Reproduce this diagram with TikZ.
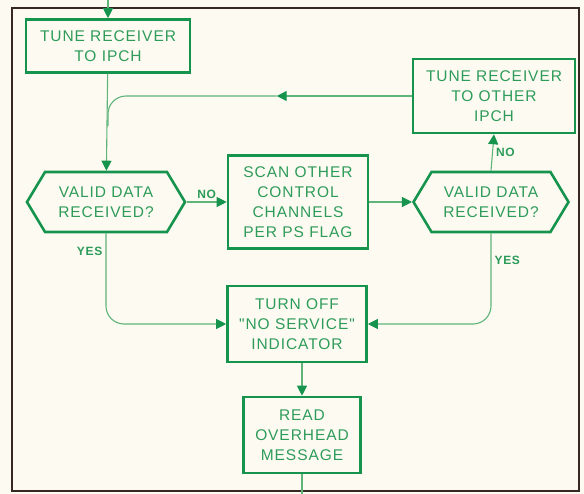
\documentclass[tikz,border=0pt]{standalone}
\usepackage{fontspec}
\setmainfont{Liberation Sans}
\newfontfamily\lettering[LetterSpace=6]{Liberation Sans}
\usetikzlibrary{arrows.meta,shapes.symbols}
\definecolor{paper}{RGB}{253,251,241}
\definecolor{boxgreen}{RGB}{22,148,78}
\definecolor{linegreen}{RGB}{95,180,122}
\definecolor{inkgreen}{RGB}{45,155,90}
\definecolor{framedark}{RGB}{55,40,35}

\begin{document}
\begin{tikzpicture}[x=1pt,y=-1pt,
  box/.style={draw=boxgreen,line width=2.6pt,text=inkgreen,align=center,
    font=\lettering\fontsize{15.5}{20}\selectfont,inner sep=0pt},
  test/.style={box,signal,signal to=east and west,signal pointer angle=118},
  wire/.style={draw=linegreen,line width=1.1pt},
  flow/.style={wire,-{Triangle[length=10pt,width=10pt,color=boxgreen]}},
  lbl/.style={text=inkgreen,font=\lettering\bfseries\fontsize{12}{14}\selectfont,inner sep=3pt}]
  % paper and frame
  \fill[paper] (0,0) rectangle (584,494);
  \useasboundingbox (0,0) rectangle (584,494);
  \draw[framedark,line width=2.2pt] (12,8) rectangle (579,491);
  % boxes
  \node[box,minimum width=164pt,minimum height=53pt] (tune) at (108,46) {TUNE RECEIVER\\TO IPCH};
  \node[box,minimum width=162pt,minimum height=74pt] (other) at (494,96) {TUNE RECEIVER\\TO OTHER\\IPCH};
  \node[test,minimum width=158pt,minimum height=60pt] (valid) at (106,202) {VALID DATA\\RECEIVED?};
  \node[box,minimum width=140pt,minimum height=93pt] (scan) at (298,202) {SCAN OTHER\\CONTROL\\CHANNELS\\PER PS FLAG};
  \node[test,minimum width=155pt,minimum height=60pt] (revalid) at (491,202) {VALID DATA\\RECEIVED?};
  \node[box,minimum width=139pt,minimum height=76pt] (turnoff) at (297,324) {TURN OFF\\"NO SERVICE"\\INDICATOR};
  \node[box,minimum width=117pt,minimum height=76pt] (read) at (302,435) {READ\\OVERHEAD\\MESSAGE};
  % in and out
  \coordinate (in) at (108,0);
  \coordinate (out) at (302,494);
  % connectors
  \draw[flow] (in) -- (tune);
  \draw[flow] (tune) -- (valid);
  \draw[flow] (valid.east) -- node[lbl,above] {NO} (scan.west);
  \draw[flow] (scan.east) -- (revalid.west);
  \draw[flow] (revalid.north) -- node[lbl,right] {NO} (other.south);
  \draw[flow] (other.west) -- ++(-135,0) coordinate (back);
  \draw[wire,rounded corners=18pt] (back) -- (back -| tune.south) -- ++(0,30);
  \draw[flow,rounded corners=18pt] (valid.south) |- node[lbl,pos=0.1,left] {YES} (turnoff.west);
  \draw[flow,rounded corners=18pt] (revalid.south) |- node[lbl,pos=0.15,right] {YES} (turnoff.east);
  \draw[flow] (turnoff.south -| read.north) -- (read.north);
  \draw[wire] (read) -- (out);
\end{tikzpicture}
\end{document}
